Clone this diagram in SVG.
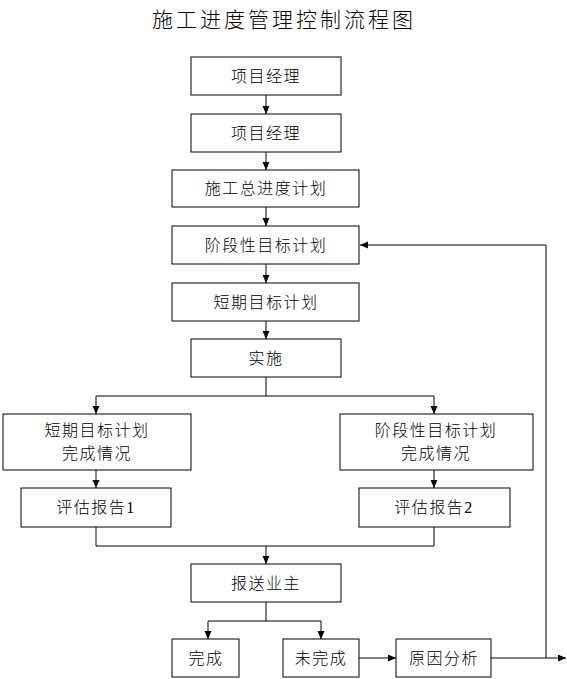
<svg xmlns="http://www.w3.org/2000/svg" width="567" height="679" viewBox="0 0 567 679">
<style>
.box{fill:#fff;stroke:#000;stroke-width:1}
.t{font-family:"Liberation Serif","Noto Sans CJK SC",serif;font-size:16px;font-weight:300;letter-spacing:1.5px;text-anchor:middle;fill:#000}
.title{font-family:"Noto Sans CJK SC",sans-serif;font-size:21px;font-weight:300;letter-spacing:3px;text-anchor:middle;fill:#000}
.c{fill:none;stroke:#000;stroke-width:1}
</style>
<defs>
<marker id="ah" markerUnits="userSpaceOnUse" markerWidth="9" markerHeight="8" refX="8" refY="3.5" orient="auto">
<path d="M0,0 L8,3.5 L0,7 z" fill="#000"/>
</marker>
</defs>
<rect width="567" height="679" fill="#fff"/>
<text class="title" x="284" y="27">施工进度管理控制流程图</text>
<g id="connectors">
<path class="c" d="M266,95 V114" marker-end="url(#ah)"/>
<path class="c" d="M266,152 V170" marker-end="url(#ah)"/>
<path class="c" d="M266,207 V226" marker-end="url(#ah)"/>
<path class="c" d="M266,264 V283" marker-end="url(#ah)"/>
<path class="c" d="M266,321 V339" marker-end="url(#ah)"/>
<path class="c" d="M266,377 V396 H96 V414" marker-end="url(#ah)"/>
<path class="c" d="M266,396 H434 V414" marker-end="url(#ah)"/>
<path class="c" d="M96,470 V488" marker-end="url(#ah)"/>
<path class="c" d="M434,470 V488" marker-end="url(#ah)"/>
<path class="c" d="M96,527 V546 H434 V527"/>
<path class="c" d="M266,546 V564" marker-end="url(#ah)"/>
<path class="c" d="M266,602 V621 H208 V639" marker-end="url(#ah)"/>
<path class="c" d="M266,621 H321 V639" marker-end="url(#ah)"/>
<path class="c" d="M359,658 H396" marker-end="url(#ah)"/>
<path class="c" d="M491,658 H566" marker-end="url(#ah)"/>
<path class="c" d="M546,658 V245 H360" marker-end="url(#ah)"/>
</g>
<g id="n1"><rect class="box" x="191" y="57" width="150" height="38"/><text class="t" x="266" y="82">项目经理</text></g>
<g id="n2"><rect class="box" x="191" y="114" width="150" height="38"/><text class="t" x="266" y="139">项目经理</text></g>
<g id="n3"><rect class="box" x="172" y="170" width="187" height="37"/><text class="t" x="266" y="194">施工总进度计划</text></g>
<g id="n4"><rect class="box" x="172" y="226" width="187" height="38"/><text class="t" x="266" y="251">阶段性目标计划</text></g>
<g id="n5"><rect class="box" x="172" y="283" width="187" height="38"/><text class="t" x="266" y="308">短期目标计划</text></g>
<g id="n6"><rect class="box" x="191" y="339" width="150" height="38"/><text class="t" x="266" y="364">实施</text></g>
<g id="n7"><rect class="box" x="3" y="414" width="188" height="56"/><text class="t" x="97" y="436">短期目标计划</text><text class="t" x="97" y="459">完成情况</text></g>
<g id="n8"><rect class="box" x="340" y="414" width="193" height="56"/><text class="t" x="436" y="436">阶段性目标计划</text><text class="t" x="436" y="459">完成情况</text></g>
<g id="n9"><rect class="box" x="21" y="488" width="150" height="39"/><text class="t" x="96" y="513">评估报告1</text></g>
<g id="n10"><rect class="box" x="359" y="488" width="151" height="39"/><text class="t" x="434" y="513">评估报告2</text></g>
<g id="n11"><rect class="box" x="191" y="564" width="150" height="38"/><text class="t" x="266" y="589">报送业主</text></g>
<g id="n12"><rect class="box" x="172" y="639" width="67" height="38"/><text class="t" x="206" y="664">完成</text></g>
<g id="n13"><rect class="box" x="283" y="639" width="76" height="38"/><text class="t" x="321" y="664">未完成</text></g>
<g id="n14"><rect class="box" x="396" y="639" width="95" height="38"/><text class="t" x="444" y="664">原因分析</text></g>
</svg>
